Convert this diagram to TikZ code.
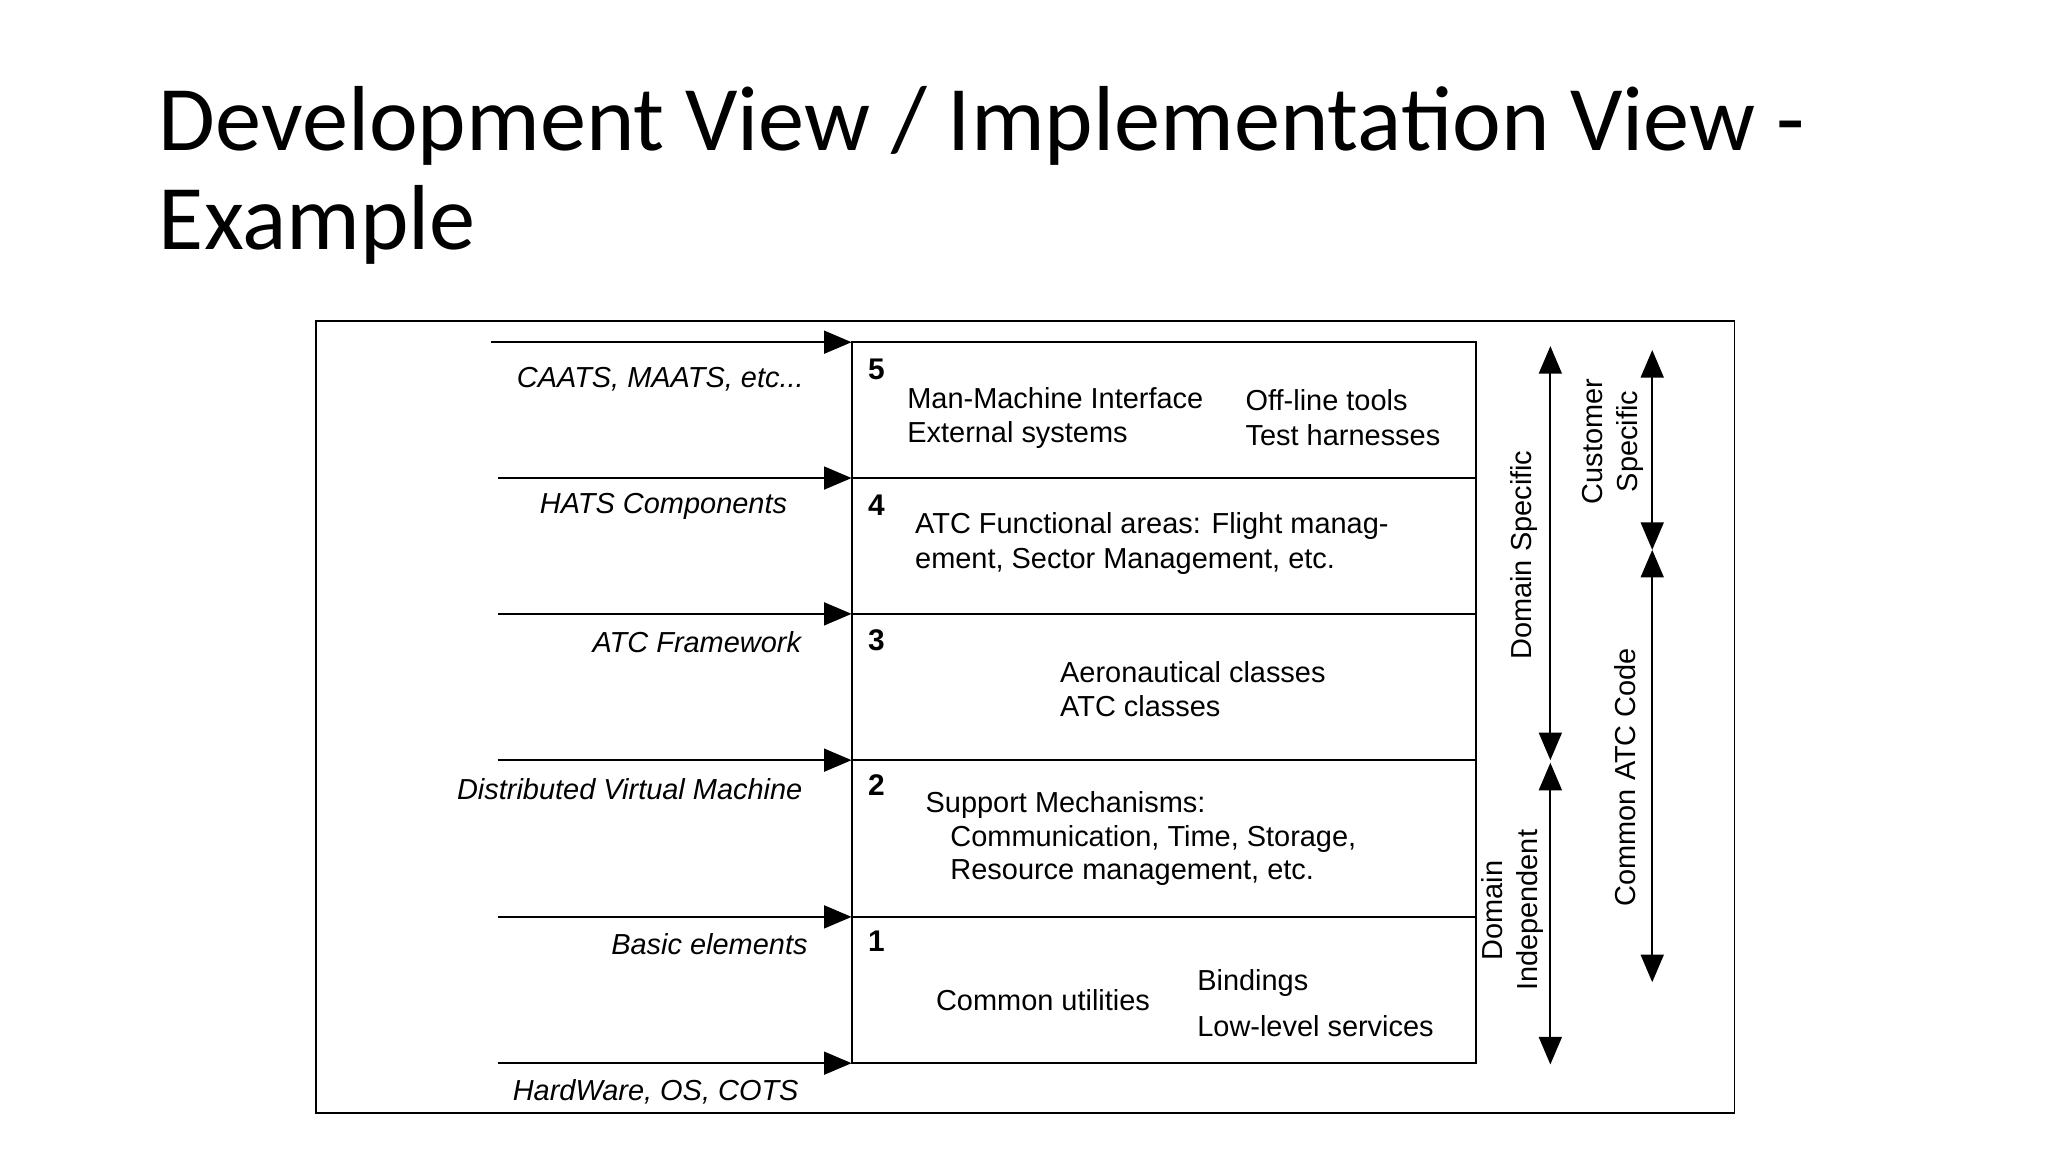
\documentclass[tikz,border=0pt]{standalone}
\usepackage{fontspec}
\setmainfont{Liberation Sans}
\newfontfamily\titlefont{Carlito}
\usetikzlibrary{arrows.meta}
\tikzset{
  lyr/.style={font=\fontsize{6.3}{7.5}\selectfont, anchor=west, inner sep=0pt},
  src/.style={font=\fontsize{6.3}{7.5}\selectfont\itshape, inner sep=0pt},
  num/.style={font=\fontsize{6.5}{7.5}\selectfont\bfseries, inner sep=0pt},
  side/.style={font=\fontsize{6.3}{7.5}\selectfont, rotate=90, align=center, inner sep=0pt},
  feed/.style={-{Triangle[length=6pt,width=5pt]}},
  span/.style={{Triangle[length=6pt,width=5pt]}-{Triangle[length=6pt,width=5pt]}}
}
\begin{document}
\begin{tikzpicture}[x=0.01cm,y=-0.01cm]
\useasboundingbox (0,0) rectangle (1568,882);
\node[anchor=west, inner sep=0pt, font=\titlefont\fontsize{20.1}{21.5}\selectfont, align=left] (title) at (121,134)
  {Development View / Implementation View -\\Example};
\draw (242,246) rectangle (1328,852);
\draw (652,262) rectangle (1130,814);
% layer borders and feeds
\foreach \y/\xs/\n in {262/376/a5,366/381/a4,470/381/a3,582/381/a2,702/381/a1,814/381/a0}{
  \coordinate (s\n) at (\xs,\y);
  \coordinate (e\n) at (652,\y);
  \draw (652,\y) -- (1130,\y);
  \draw[feed] (s\n) -- (e\n);
}
\node[src, anchor=east] (l5) at (616,290) {CAATS, MAATS, etc...};
\node[src] (l4) at (508,388) {HATS Components};
\node[src, anchor=east] (l3) at (614,492) {ATC Framework};
\node[src, anchor=east] (l2) at (615,604) {Distributed Virtual Machine};
\node[src, anchor=east] (l1) at (619,723) {Basic elements};
\node[src] (l0) at (502,836) {HardWare, OS, COTS};
\foreach \n/\y in {5/283,4/387,3/490,2/601,1/721}
  \node[num] (n\n) at (671,\y) {\n};
% layer texts
\node[lyr] (mmi) at (694,305) {Man-Machine Interface};
\node[lyr] (ext) at (694,333) {External systems};
\node[lyr] (off) at (953,306) {Off-line tools};
\node[lyr] (tst) at (953,333) {Test harnesses};
\node[lyr] (fa1) at (700,403) {ATC Functional areas: Flight manag-};
\node[lyr] (fa2) at (700,430) {ement, Sector Management, etc.};
\node[lyr] (aer) at (811,515) {Aeronautical classes};
\node[lyr] (atc) at (811,541) {ATC classes};
\node[lyr] (sm1) at (708,616) {Support Mechanisms:};
\node[lyr] (sm2) at (727,642) {Communication, Time, Storage,};
\node[lyr] (sm3) at (727,668) {Resource management, etc.};
\node[lyr] (cu) at (716,766) {Common utilities};
\node[lyr] (bnd) at (916,753) {Bindings};
\node[lyr] (llv) at (916,786) {Low-level services};
% side spans
\coordinate (ds1) at (1187,265); \coordinate (ds2) at (1187,582);
\coordinate (di1) at (1187,584); \coordinate (di2) at (1187,815);
\coordinate (cs1) at (1265,268); \coordinate (cs2) at (1265,421);
\coordinate (cc1) at (1265,421); \coordinate (cc2) at (1265,752);
\draw[span] (ds1) -- (ds2);
\draw[span] (di1) -- (di2);
\draw[span] (cs1) -- (cs2);
\draw[span] (cc1) -- (cc2);
\node[side] (dst) at (1167,425) {Domain Specific};
\node[side] (dit) at (1158,697) {Domain\\Independent};
\node[side] (cst) at (1235,338) {Customer\\Specific};
\node[side] (cct) at (1244,595) {Common ATC Code};
\end{tikzpicture}
\end{document}
